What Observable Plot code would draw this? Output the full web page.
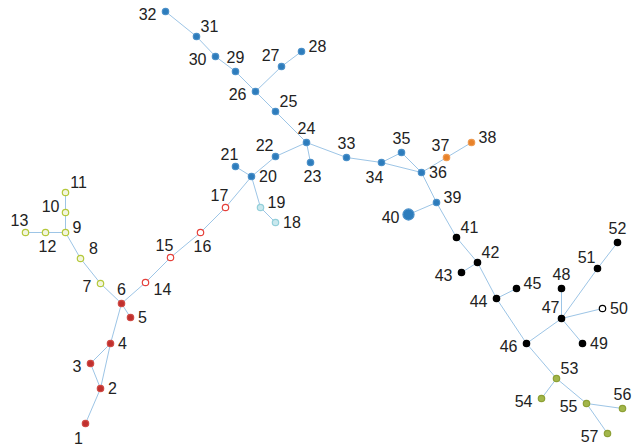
<!DOCTYPE html>
<html>
<head>
<meta charset="utf-8">
<script src="https://cdn.jsdelivr.net/npm/d3@7"></script>
<script src="https://cdn.jsdelivr.net/npm/@observablehq/plot@0.6"></script>
<style>
  html, body { margin: 0; padding: 0; background: #fff; }
  svg { display: block; }
</style>
</head>
<body>
<div id="chart"></div>
<script>
// Node ids and their layout coordinates (layout units, y grows downward)
const nodeIds = d3.range(1, 58);
const nodeX = [85,100,90,110,130,121,100,80,65,65,65,45,25,145,170,200,225,275,260,251,
               235,275,310,306,275,255,281,301,235,215,196,165,346,381,401,421,446,471,436,408,
               456,477,461,496,516,526,561,561,582,602,597,617,556,541,586,622,607];
const nodeY = [423,388,363,343,317,303,283,258,232,212,192,232,232,282,257,232,207,222,207,176,
               166,156,162,142,111,91,66,51,71,56,36,11,157,162,152,172,157,142,202,214,
               237,262,272,298,288,343,318,288,343,308,268,242,378,398,403,408,433];
// community of each node
const nodeGroup = ["A","A","A","A","A","A","B","B","B","B","B","B","B","C","C","C","C","D","D","E",
                   "E","E","E","E","E","E","E","E","E","E","E","E","E","E","E","E","F","F","E","E",
                   "G","G","G","G","G","G","G","G","G","H","G","G","I","I","I","I","I"];
// node weight (node 40 is heavier)
const nodeWeight = nodeIds.map(id => id === 40 ? 3 : 1);
// label side of each node
const labelSide = ["SW","E","W","E","E","N","W","NE","EN","WN","NE","S","Nl","SE","Nl","S","Nl","E","EN","E",
                   "Nl","NW","S","N","NE","W","NW","EN","N","W","NE","W","N","SW","N","E","Nl","EN","EN","W",
                   "NE","NE","W","W","EN","W","NW","N","E","E","NW","N","NE","W","W","N","W"];
// edges
const edgeFrom = [1,2,2,3,4,5,6,7,8,9,10,9,12,6,14,15,16,17,20,20,19,20,22,24,24,25,26,27,26,29,30,31,
                  24,33,34,35,34,36,37,36,39,39,41,42,42,44,44,46,47,47,47,47,51,46,53,53,55,55];
const edgeTo   = [2,3,4,4,6,6,7,8,9,10,11,12,13,14,15,16,17,20,21,19,18,22,24,23,25,26,27,28,29,30,31,32,
                  33,34,35,36,36,37,38,39,40,41,42,43,44,45,46,47,48,49,50,51,52,53,54,55,56,57];

// ---- styles ----
const groupStyle = {
  A: {fill: "#c0302e", stroke: "#cf4a45", sw: 1},
  B: {fill: "#f3f6dc", stroke: "#b4c83a", sw: 1.6},
  C: {fill: "#ffffff", stroke: "#e5403a", sw: 1.6},
  D: {fill: "#c9e8ee", stroke: "#93cfd9", sw: 1},
  E: {fill: "#2d7cbc", stroke: "#4a8fc8", sw: 1},
  F: {fill: "#e8822a", stroke: "#ee9a50", sw: 1},
  G: {fill: "#000000", stroke: "#000000", sw: 1},
  H: {fill: "#ffffff", stroke: "#000000", sw: 1.8},
  I: {fill: "#a2b64a", stroke: "#8da035", sw: 1}
};
const sideStyle = {
  N:  {textAnchor: "middle", dx: 0,   dy: -14},
  Nl: {textAnchor: "middle", dx: -6,  dy: -12},
  NW: {textAnchor: "end",    dx: -2,  dy: -11},
  NE: {textAnchor: "middle", dx: 13,  dy: -10},
  E:  {textAnchor: "start",  dx: 7.5, dy: 0.5},
  EN: {textAnchor: "start",  dx: 7,   dy: -5},
  W:  {textAnchor: "end",    dx: -9,  dy: 3},
  WN: {textAnchor: "end",    dx: -6,  dy: -6},
  S:  {textAnchor: "middle", dx: 2,   dy: 14},
  SW: {textAnchor: "middle", dx: -7,  dy: 15},
  SE: {textAnchor: "start",  dx: 8,   dy: 7}
};

const nodes = nodeIds.map((id, i) => ({
  id, x: nodeX[i], y: nodeY[i], group: nodeGroup[i], weight: nodeWeight[i], side: labelSide[i]
}));
const byId = new Map(nodes.map(n => [n.id, n]));
const edges = edgeFrom.map((s, i) => ({source: byId.get(s), target: byId.get(edgeTo[i])}));

const labelMarks = Object.entries(sideStyle).map(([side, st]) =>
  Plot.text(nodes.filter(n => n.side === side), {
    x: "x", y: "y", text: d => String(d.id),
    textAnchor: st.textAnchor, dx: st.dx, dy: st.dy,
    fontSize: 16, fill: "#222222",
    fontFamily: "Liberation Sans, Arial, sans-serif"
  })
);

const chart = Plot.plot({
  width: 638,
  height: 446,
  margin: 0,
  x: {domain: [0, 638], range: [0, 638], axis: null},
  y: {domain: [0, 446], range: [0, 446], axis: null},
  r: {type: "identity"},
  color: {type: "identity"},
  style: {background: "#ffffff", overflow: "visible"},
  marks: [
    Plot.link(edges, {
      x1: d => d.source.x, y1: d => d.source.y,
      x2: d => d.target.x, y2: d => d.target.y,
      stroke: "#9dc5e6", strokeWidth: 1
    }),
    Plot.dot(nodes, {
      x: "x", y: "y",
      r: d => 3.2 * Math.sqrt(d.weight),
      fill: d => groupStyle[d.group].fill,
      stroke: d => groupStyle[d.group].stroke,
      strokeWidth: 1.2
    }),
    ...labelMarks
  ]
});
document.getElementById("chart").appendChild(chart);
</script>
</body>
</html>
